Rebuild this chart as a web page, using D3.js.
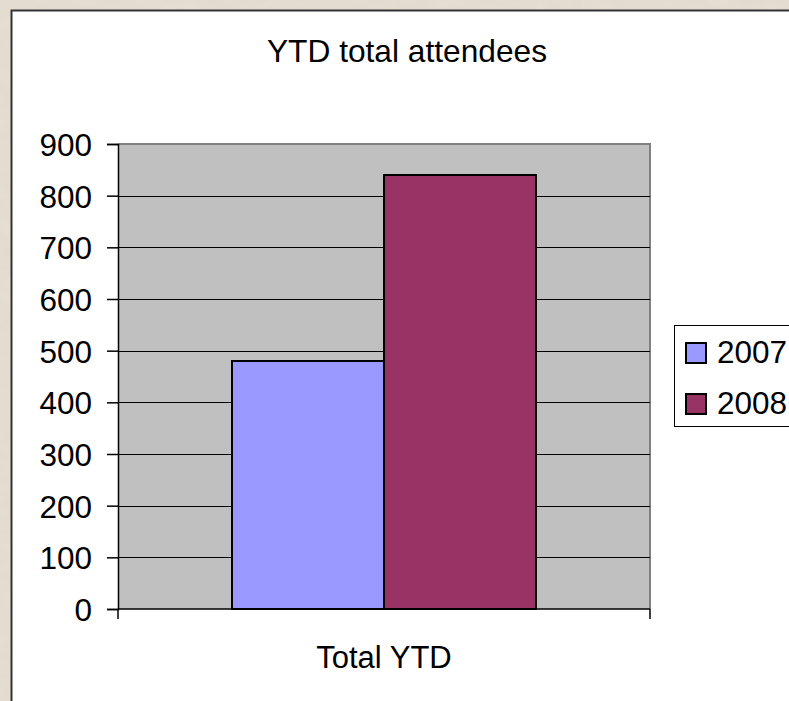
<!DOCTYPE html>
<html><head><meta charset="utf-8">
<script src="https://cdn.jsdelivr.net/npm/d3@7"></script>
<style>body{margin:0;padding:0;overflow:hidden}svg{display:block}text{font-family:"Liberation Sans",Arial,sans-serif;fill:#000}</style>
</head><body>
<script>
const categories = ["Total YTD"];
const seriesNames = ["2007", "2008"];
const seriesValues = [[480], [840]];
const seriesColors = ["#9999FF", "#993366"];
const yTicks = [0, 100, 200, 300, 400, 500, 600, 700, 800, 900];
const title = "YTD total attendees";

const W = 789, H = 701;
const svg = d3.select("body").append("svg").attr("width", W).attr("height", H);

// textured background
const defs = svg.append("defs");
const f = defs.append("filter").attr("id", "marble").attr("x", 0).attr("y", 0).attr("width", "100%").attr("height", "100%");
f.append("feTurbulence").attr("type", "fractalNoise").attr("baseFrequency", "0.03 0.06").attr("numOctaves", 4).attr("seed", 3).attr("result", "n");
f.append("feColorMatrix").attr("in", "n").attr("type", "matrix")
  .attr("values", "0 0 0 0 0.72  0 0 0 0 0.66  0 0 0 0 0.58  0 0 0 -1.2 0.9").attr("result", "c");
f.append("feComposite").attr("in", "c").attr("in2", "SourceGraphic").attr("operator", "over");
svg.append("rect").attr("width", W).attr("height", H).attr("fill", "#E6DED2");
svg.append("rect").attr("width", W).attr("height", H).attr("fill", "#E6DED2").attr("filter", "url(#marble)").attr("opacity", 0.5);

// chart area
svg.append("rect").attr("x", 11.5).attr("y", 10.5).attr("width", W).attr("height", H)
  .attr("fill", "#fff").attr("stroke", "#333").attr("stroke-width", 2);

const plot = {l: 118, r: 650, t: 144, b: 609};
const y = d3.scaleLinear().domain([0, 900]).range([plot.b, plot.t]);
// gap width 150% -> each bar = 1/3.5 of category width
const catW = (plot.r - plot.l) / categories.length;
const barW = catW / 3.5;

svg.append("rect").attr("x", plot.l).attr("y", plot.t).attr("width", plot.r - plot.l).attr("height", plot.b - plot.t)
  .attr("fill", "#C0C0C0");
svg.append("path").attr("d", `M${plot.l},${plot.t}H${plot.r}V${plot.b}`).attr("fill", "none").attr("stroke", "#808080").attr("stroke-width", 2);

// gridlines
svg.append("g").selectAll("line").data(yTicks.filter(d => d > 0 && d < 900)).join("line")
  .attr("x1", plot.l).attr("x2", plot.r).attr("y1", d => Math.round(y(d)) + 0.5).attr("y2", d => Math.round(y(d)) + 0.5)
  .attr("stroke", "#000").attr("stroke-width", 1);

// bars
categories.forEach((c, ci) => {
  const cx = plot.l + ci * catW + catW / 2;
  seriesNames.forEach((s, si) => {
    const bx = cx - barW + si * barW;
    svg.append("rect").attr("x", bx).attr("y", y(seriesValues[si][ci]))
      .attr("width", barW).attr("height", plot.b - y(seriesValues[si][ci]))
      .attr("fill", seriesColors[si]).attr("stroke", "#000").attr("stroke-width", 2);
  });
});

// y axis
const yAxis = d3.axisLeft(y).tickValues(yTicks).tickSize(11).tickPadding(15);
const ga = svg.append("g").attr("transform", `translate(${plot.l},0)`).call(yAxis);
ga.select(".domain").attr("stroke", "#000").attr("stroke-width", 1.5);
ga.selectAll(".tick line").attr("stroke", "#000").attr("stroke-width", 1.5);
ga.selectAll(".tick text").attr("font-size", 31.5).attr("font-family", "Liberation Sans, Arial, sans-serif").attr("fill", "#000").attr("dy", "0.36em");

// x axis
svg.append("line").attr("x1", plot.l).attr("x2", plot.r).attr("y1", plot.b).attr("y2", plot.b).attr("stroke", "#000").attr("stroke-width", 1.5);
[plot.l, plot.r].forEach(px => svg.append("line").attr("x1", px).attr("x2", px).attr("y1", plot.b).attr("y2", plot.b + 10).attr("stroke", "#000").attr("stroke-width", 1.5));
categories.forEach((c, ci) => {
  svg.append("text").attr("x", plot.l + ci * catW + catW / 2).attr("y", 668).attr("text-anchor", "middle").attr("font-size", 31).text(c);
});

// title
svg.append("text").attr("x", 407).attr("y", 62).attr("text-anchor", "middle").attr("font-size", 31.7).text(title);

// legend
svg.append("rect").attr("x", 674.5).attr("y", 325.5).attr("width", 200).attr("height", 101).attr("fill", "#fff").attr("stroke", "#000").attr("stroke-width", 1);
seriesNames.forEach((s, i) => {
  const yy = 343 + i * 51;
  svg.append("rect").attr("x", 686).attr("y", yy).attr("width", 20).attr("height", 20).attr("fill", seriesColors[i]).attr("stroke", "#000").attr("stroke-width", 2);
  svg.append("text").attr("x", 717).attr("y", yy + 20).attr("font-size", 31.5).text(s);
});
</script>
</body></html>
